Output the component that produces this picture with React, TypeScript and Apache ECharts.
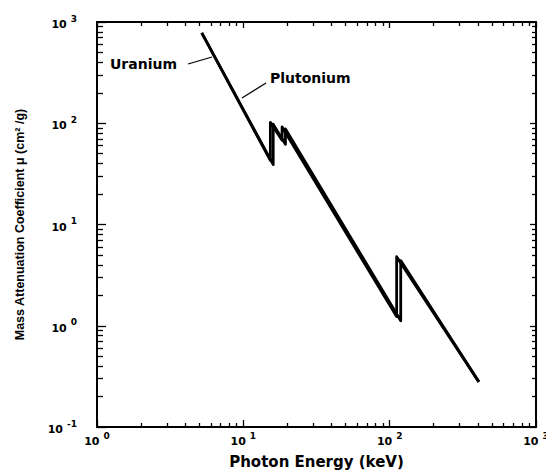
import React, { useEffect, useRef } from "react";
import * as echarts from "echarts";

// Photon energy (keV) and mass attenuation coefficient (cm²/g), with the L and K absorption edges
const uraniumEnergy = [5.2, 15.3, 15.3, 18.4, 18.4, 111.6, 111.6, 407];
const uraniumMu = [780, 43, 102, 68, 92, 1.23, 4.8, 0.279];
const plutoniumEnergy = [5.2, 16.0, 16.0, 19.4, 19.4, 119, 119, 407];
const plutoniumMu = [780, 39, 98, 62, 88, 1.12, 4.4, 0.279];

// axis ranges (decades)
const X_MIN = 1;
const X_MAX = 1000;
const Y_MIN = 0.1;
const Y_MAX = 1000;

const FONT = '"DejaVu Sans", "Liberation Sans", Arial, sans-serif';

const pairs = (xs: number[], ys: number[]) => xs.map((x, i) => [x, ys[i]]);

const powerLabel = (v: number) => {
  const e = Math.round(Math.log10(v));
  return `{b|10}{s|${e}}`;
};

const labelRich = {
  b: { fontSize: 11, fontWeight: "bold", fontFamily: FONT, color: "#000", lineHeight: 16, verticalAlign: "bottom" },
  s: { fontSize: 9, fontWeight: "bold", fontFamily: FONT, color: "#000", padding: [0, 0, 0, 4], verticalAlign: "top" },
};

// inward decade ticks plus the 2–9 minor ticks of each decade
const ticks = (major: number, minor: number) => ({
  axisTick: { show: true, inside: true, length: major, lineStyle: { color: "#000", width: 1.3 } },
  minorTick: { show: true, splitNumber: 9, length: minor, lineStyle: { color: "#000", width: 1.3 } },
  axisLine: { show: false },
  splitLine: { show: false },
  minorSplitLine: { show: false },
});

export default function App() {
  const ref = useRef<HTMLDivElement>(null);

  useEffect(() => {
    if (!ref.current) return;
    const chart = echarts.init(ref.current, undefined, { renderer: "svg" });

    chart.setOption({
      animation: false,
      backgroundColor: "#fff",
      grid: {
        left: 97,
        right: 10,
        top: 22,
        bottom: 45,
        outerBoundsMode: "none",
        show: true,
        borderColor: "#000",
        borderWidth: 2,
        backgroundColor: "transparent",
      },
      xAxis: [
        {
          type: "log", logBase: 10, min: X_MIN, max: X_MAX, position: "bottom",
          name: "Photon Energy (keV)", nameLocation: "middle", nameGap: 27,
          nameTextStyle: { fontFamily: FONT, fontWeight: "bold", fontSize: 15, color: "#000" },
          ...ticks(7, 4),
          axisLabel: { margin: 4, formatter: powerLabel, rich: labelRich },
        },
        {
          type: "log", logBase: 10, min: X_MIN, max: X_MAX, position: "top",
          ...ticks(6, 4),
          axisLabel: { show: false },
        },
      ],
      yAxis: [
        {
          type: "log", logBase: 10, min: Y_MIN, max: Y_MAX, position: "left",
          name: "Mass Attenuation Coefficient μ (cm² /g)", nameLocation: "middle", nameGap: 71,
          nameTextStyle: { fontFamily: '"Liberation Sans", Arial, sans-serif', fontWeight: "bold", fontSize: 12.5, color: "#000" },
          ...ticks(9, 6),
          axisLabel: { margin: 20, formatter: powerLabel, rich: labelRich },
        },
        {
          type: "log", logBase: 10, min: Y_MIN, max: Y_MAX, position: "right",
          ...ticks(6, 4),
          axisLabel: { show: false },
        },
      ],
      graphic: [
        { type: "text", left: 110, top: 57, style: { text: "Uranium", font: `bold 14px ${FONT}`, fill: "#000" } },
        { type: "line", shape: { x1: 188, y1: 64, x2: 212, y2: 57 }, style: { stroke: "#000", lineWidth: 1.3 } },
        { type: "text", left: 270, top: 71, style: { text: "Plutonium", font: `bold 14px ${FONT}`, fill: "#000" } },
        { type: "line", shape: { x1: 242, y1: 98, x2: 266, y2: 83 }, style: { stroke: "#000", lineWidth: 1.3 } },
      ],
      series: [
        { name: "Uranium", type: "line", data: pairs(uraniumEnergy, uraniumMu), symbol: "none", lineStyle: { color: "#000", width: 2.8, join: "round" } },
        { name: "Plutonium", type: "line", data: pairs(plutoniumEnergy, plutoniumMu), symbol: "none", lineStyle: { color: "#000", width: 2.8, join: "round" } },
      ],
    });

    return () => chart.dispose();
  }, []);

  return <div ref={ref} style={{ position: "fixed", left: 0, top: 0, width: 546, height: 472 }} />;
}
